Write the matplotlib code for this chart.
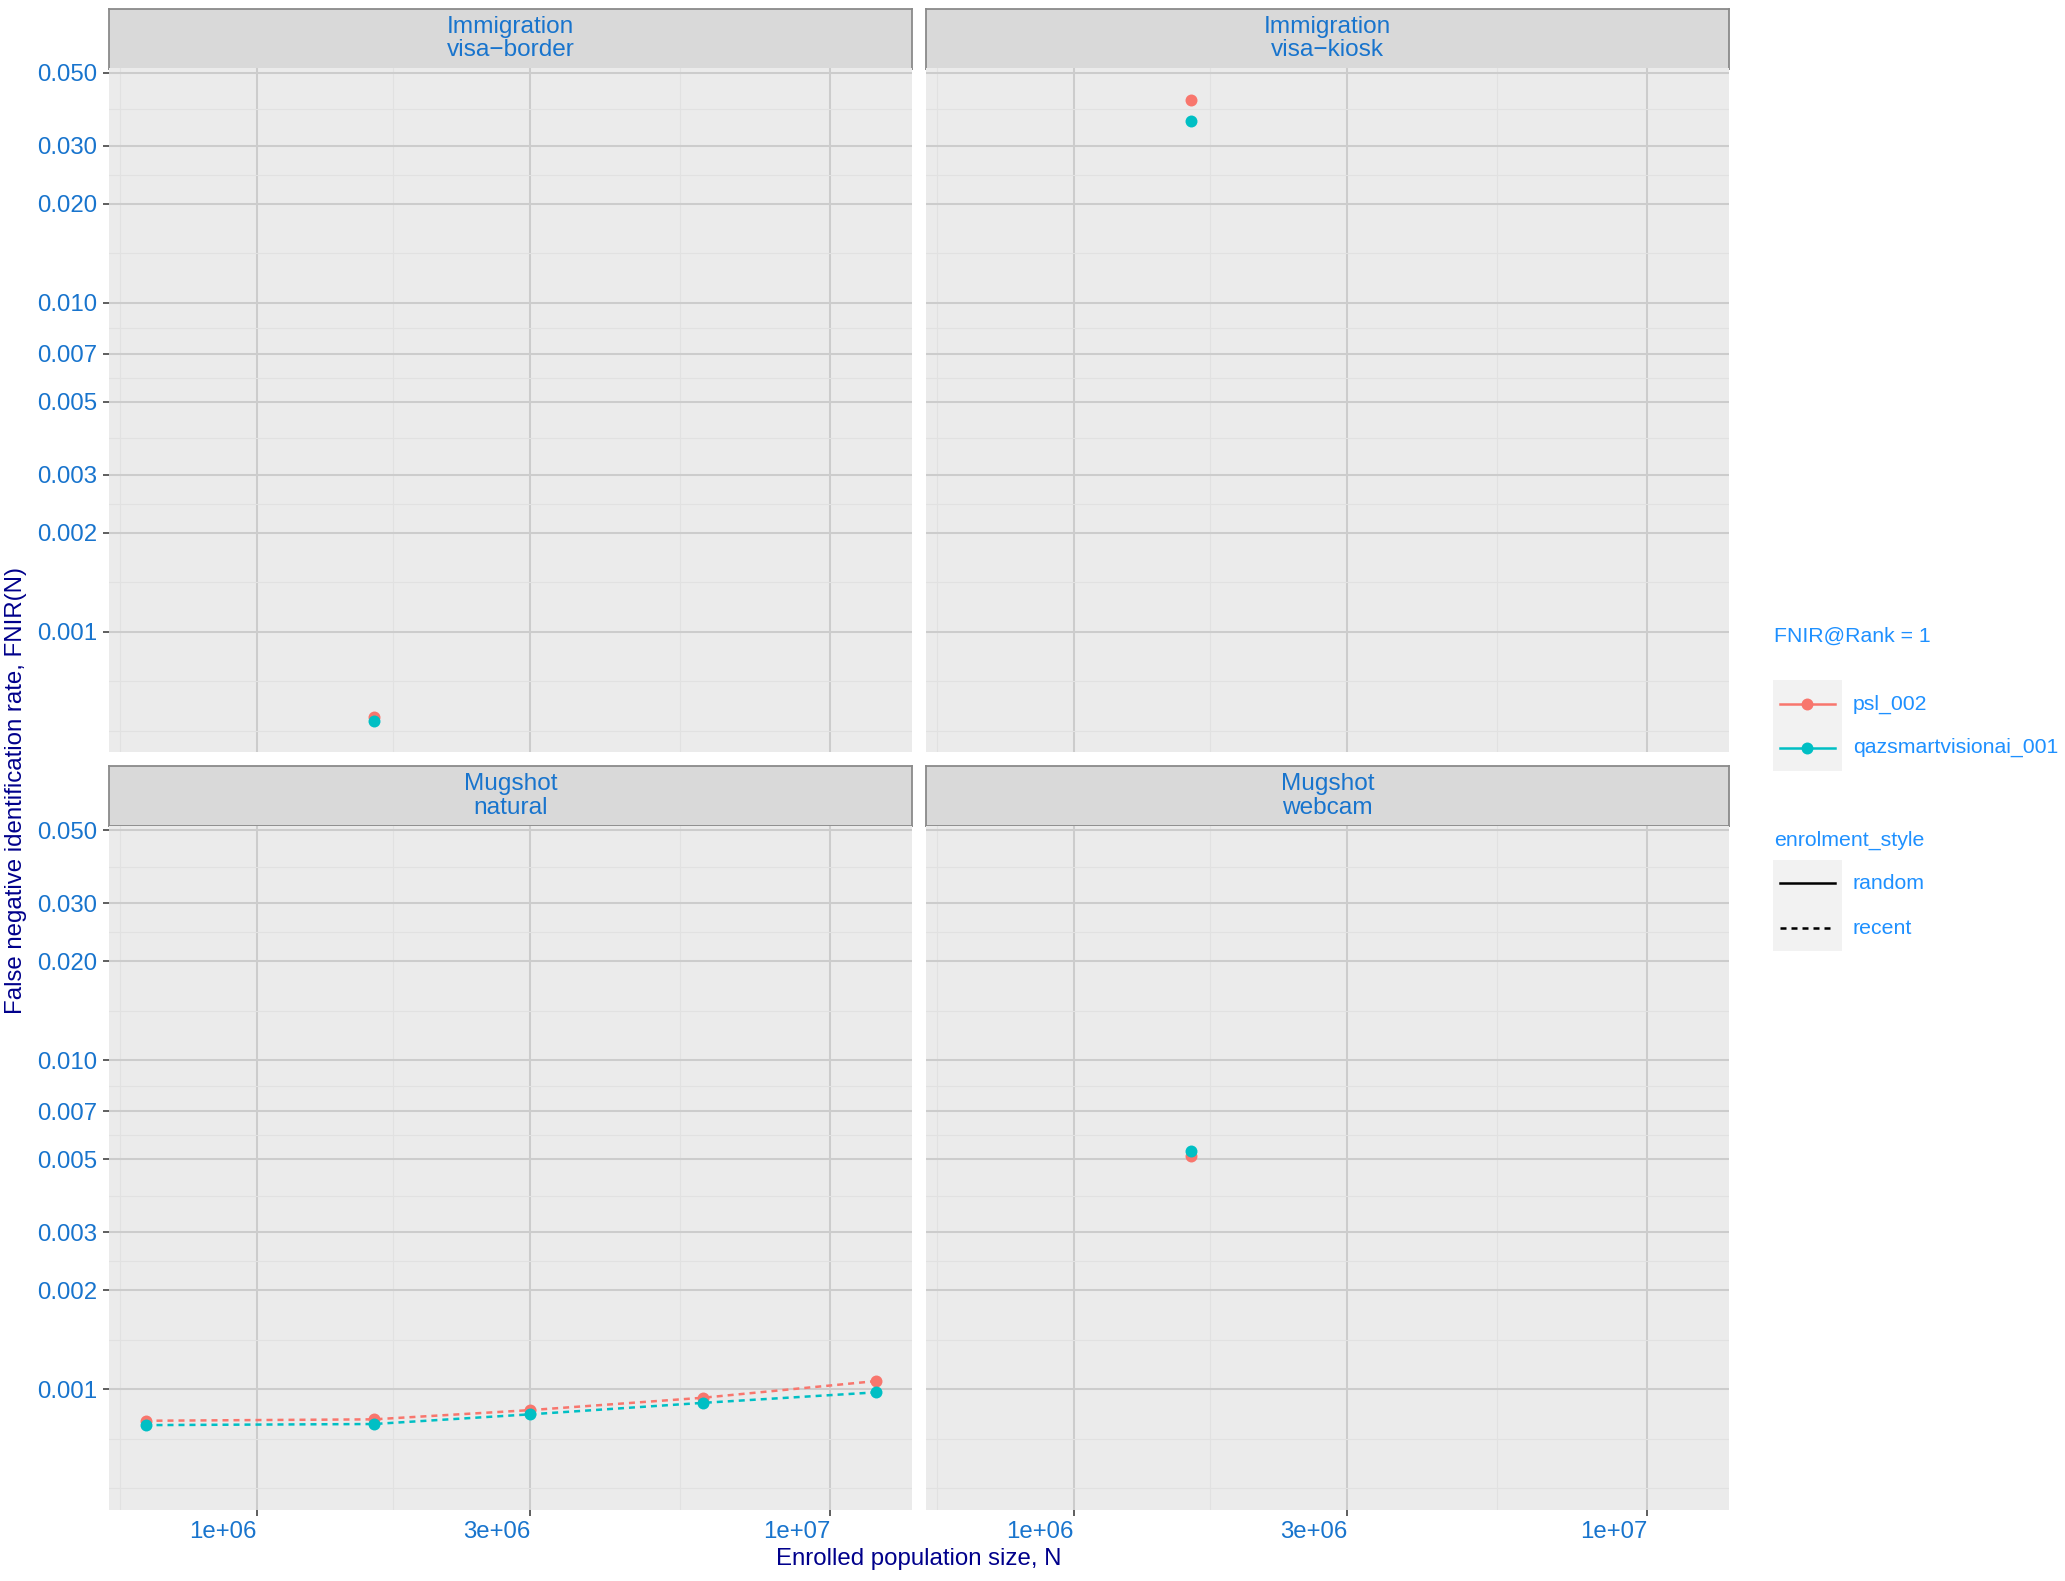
import numpy as np
import matplotlib
matplotlib.use("Agg")
import matplotlib.pyplot as plt
from matplotlib.lines import Line2D
from matplotlib.patches import Rectangle

plt.rcParams['font.family'] = ['Liberation Sans', 'DejaVu Sans']

# ---- data -----------------------------------------------------------------
facet_group = ["Immigration", "Immigration", "Mugshot", "Mugshot"]
facet_kind = ["visa\u2212border", "visa\u2212kiosk", "natural", "webcam"]

algorithms = ["psl_002", "qazsmartvisionai_001"]
algo_colors = ["#F8766D", "#00BFC4"]
enrol_styles = ["random", "recent"]

# enrolled population size N and FNIR(N) at rank 1, per facet
n_visa_border = [1600000]
psl_visa_border = [5.50e-4]
qaz_visa_border = [5.35e-4]

n_visa_kiosk = [1600000]
psl_visa_kiosk = [0.0414]
qaz_visa_kiosk = [0.0356]

n_natural = [640000, 1600000, 3000000, 6000000, 12000000]
psl_natural = [8.01e-4, 8.09e-4, 8.63e-4, 9.41e-4, 1.057e-3]
qaz_natural = [7.77e-4, 7.83e-4, 8.38e-4, 9.08e-4, 9.77e-4]

n_webcam = [1600000]
psl_webcam = [5.12e-3]
qaz_webcam = [5.31e-3]

facet_n = [n_visa_border, n_visa_kiosk, n_natural, n_webcam]
facet_psl = [psl_visa_border, psl_visa_kiosk, psl_natural, psl_webcam]
facet_qaz = [qaz_visa_border, qaz_visa_kiosk, qaz_natural, qaz_webcam]
facet_style = ["random", "random", "recent", "random"]

x_breaks = [1e6, 3e6, 1e7]
x_labels = ["1e+06", "3e+06", "1e+07"]
y_breaks = [0.001, 0.002, 0.003, 0.005, 0.007, 0.010, 0.020, 0.030, 0.050]
y_labels = ["0.001", "0.002", "0.003", "0.005", "0.007", "0.010", "0.020",
            "0.030", "0.050"]

# ---- styling constants ------------------------------------------------------
W, H = 2065, 1581
TICK_BLUE = "#1874CD"
LEGEND_BLUE = "#1E90FF"
TITLE_NAVY = "#00008B"
PANEL_BG = "#EBEBEB"
STRIP_BG = "#D9D9D9"
FS = 17.3
STRIP_FS = 17.6
LEG_FS = 15.3
LW = 1.8
MS = 8.6
DASH = (0, (2.4, 2.0))


def fig_rect(x, y_top, w, h):
    return [x / W, 1 - (y_top + h) / H, w / W, h / H]


def fx(x):
    return x / W


def fy(y):
    return 1 - y / H


def log_limits(values):
    lo, hi = np.log10(min(values)), np.log10(max(values))
    pad = 0.05 * (hi - lo)
    return 10 ** (lo - pad), 10 ** (hi + pad)


def minor_breaks(breaks, limits):
    # midpoints between major breaks in log space, extended by one step
    b = list(np.log10(breaks))
    step = b[1] - b[0]
    lo, hi = np.log10(limits[0]), np.log10(limits[1])
    if lo < b[0]:
        b = [b[0] - step] + b
    if hi > b[-1]:
        b = b + [b[-1] + step]
    mids = [(a + c) / 2 for a, c in zip(b[:-1], b[1:])]
    extra = [v for v in b if v not in np.log10(breaks)]
    out = [10 ** v for v in mids + extra if lo <= v <= hi]
    return sorted(out)


all_n = [v for arr in facet_n for v in arr]
all_f = [v for arr in facet_psl + facet_qaz for v in arr]
xlim = log_limits(all_n)
ylim = log_limits(all_f)
x_minor = minor_breaks(x_breaks, xlim)
y_minor = minor_breaks(y_breaks, ylim)

fig = plt.figure(figsize=(W / 100, H / 100), dpi=100)

col_x = [109, 926]
panel_w = 803
row_top = [68.5, 826]
panel_h = 683.5
strip_h = 60

for i in range(4):
    r, c = divmod(i, 2)
    x0, y0 = col_x[c], row_top[r]

    # strip
    sax = fig.add_axes(fig_rect(x0, y0 - strip_h, panel_w, strip_h))
    sax.set_facecolor(STRIP_BG)
    sax.set_xticks([])
    sax.set_yticks([])
    for sp in sax.spines.values():
        sp.set_color("#8A8A8A")
        sp.set_linewidth(1.3)
    sax.text(0.5, 0.50, facet_group[i] + "\n" + facet_kind[i],
             ha="center", va="center", color=TICK_BLUE, fontsize=STRIP_FS,
             linespacing=1.1, transform=sax.transAxes)

    # panel
    ax = fig.add_axes(fig_rect(x0, y0, panel_w, panel_h))
    ax.set_facecolor(PANEL_BG)
    ax.set_xscale("log")
    ax.set_yscale("log")
    ax.set_xlim(*xlim)
    ax.set_ylim(*ylim)
    for sp in ax.spines.values():
        sp.set_visible(False)

    ax.set_xticks(x_breaks)
    ax.set_yticks(y_breaks)
    ax.set_xticks(x_minor, minor=True)
    ax.set_yticks(y_minor, minor=True)
    ax.grid(which="major", color="#CCCCCC", linewidth=1.45)
    ax.grid(which="minor", color="#E1E1E1", linewidth=0.75)
    ax.set_axisbelow(True)
    ax.tick_params(which="minor", length=0, labelbottom=False,
                   labelleft=False)
    ax.tick_params(which="major", length=4, width=1.1, color="#333333",
                   labelcolor=TICK_BLUE, labelsize=FS, pad=4.5)

    if r == 1:
        ax.set_xticklabels(x_labels, ha="right")
    else:
        ax.tick_params(axis="x", which="major", length=0, labelbottom=False)
    if c == 0:
        ax.set_yticklabels(y_labels)
    else:
        ax.tick_params(axis="y", which="major", length=0, labelleft=False)

    ls = DASH if facet_style[i] == "recent" else "-"
    series = [facet_psl[i], facet_qaz[i]]
    for vals, col in zip(series, algo_colors):
        ax.plot(facet_n[i], vals, color=col, linestyle=ls, linewidth=LW,
                zorder=2)
    for vals, col in zip(series, algo_colors):
        ax.plot(facet_n[i], vals, linestyle="none", marker="o", ms=MS,
                color=col, markeredgewidth=0, zorder=3)

# axis titles
fig.text(fx(919), fy(1559), "Enrolled population size, N", ha="center",
         va="center", color=TITLE_NAVY, fontsize=FS)
fig.text(fx(16), fy(790), "False negative identification rate, FNIR(N)",
         ha="center", va="center", rotation=90, color=TITLE_NAVY, fontsize=FS)

# legends
def legend_box(y_top, y_bot):
    fig.add_artist(Rectangle((fx(1772.7), fy(y_bot)),
                             (1841.7 - 1772.7) / W, (y_bot - y_top) / H,
                             transform=fig.transFigure, facecolor="#F2F2F2",
                             edgecolor="none"))


fig.text(fx(1774), fy(636.7), "FNIR@Rank = 1", ha="left", va="center",
         color=LEGEND_BLUE, fontsize=LEG_FS)
legend_box(680, 770.7)
for name, col, yy in zip(algorithms, algo_colors, [704.3, 747.7]):
    fig.add_artist(Line2D([fx(1780), fx(1835)], [fy(yy), fy(yy)],
                          transform=fig.transFigure, color=col, lw=LW))
    fig.add_artist(Line2D([fx(1807.3)], [fy(yy)], transform=fig.transFigure,
                          color=col, marker="o", ms=MS, markeredgewidth=0,
                          linestyle="none"))
    fig.text(fx(1852.7), fy(yy), name, ha="left", va="center",
             color=LEGEND_BLUE, fontsize=LEG_FS)

fig.text(fx(1774), fy(840), "enrolment_style", ha="left", va="center",
         color=LEGEND_BLUE, fontsize=LEG_FS)
legend_box(860, 950.7)
for name, yy in zip(enrol_styles, [883.3, 928.3]):
    ls = DASH if name == "recent" else "-"
    fig.add_artist(Line2D([fx(1780), fx(1835)], [fy(yy), fy(yy)],
                          transform=fig.transFigure, color="black", lw=LW,
                          linestyle=ls))
    fig.text(fx(1852.7), fy(yy), name, ha="left", va="center",
             color=LEGEND_BLUE, fontsize=LEG_FS)

fig.savefig("out.png", dpi=100)
